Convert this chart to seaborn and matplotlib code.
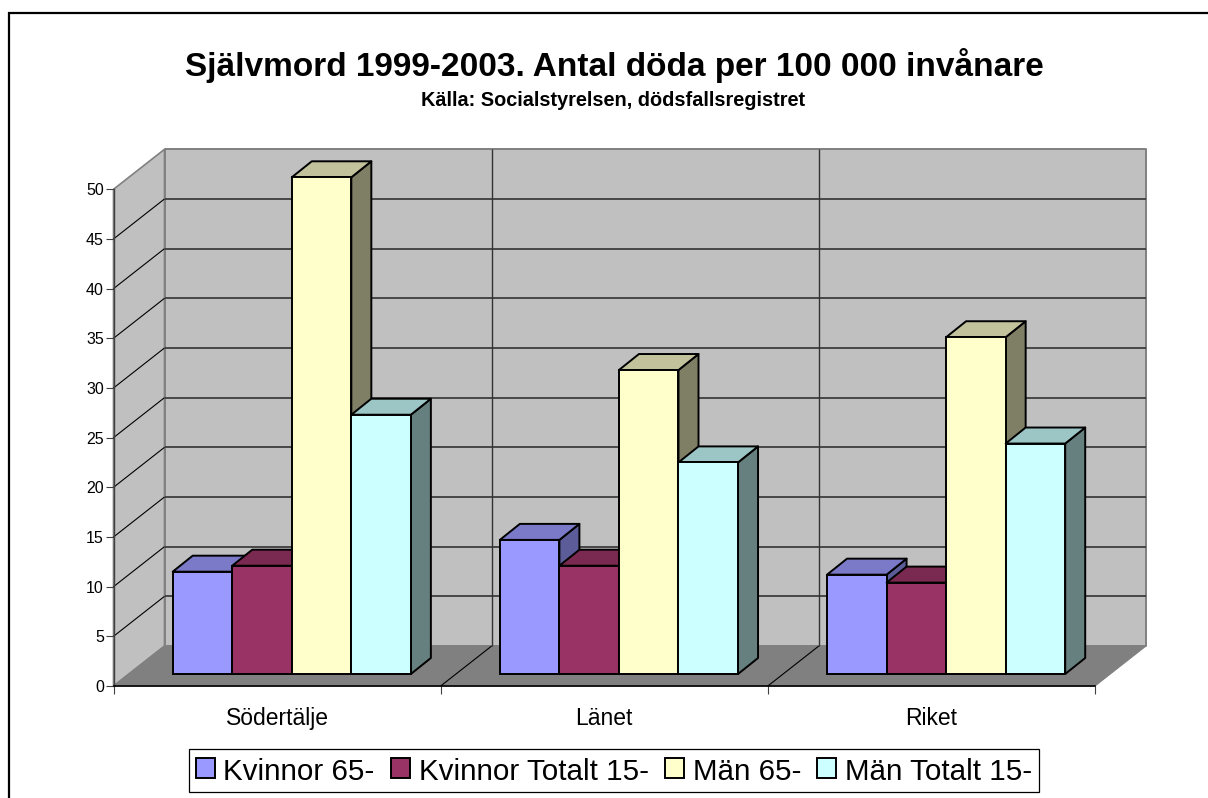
import numpy as np
import pandas as pd
import seaborn as sns
import matplotlib.pyplot as plt
from matplotlib.lines import Line2D
from matplotlib.patches import Polygon
from matplotlib.transforms import Affine2D, IdentityTransform

# values
places = ["Södertälje", "Länet", "Riket"]
series = ["Kvinnor 65-", "Kvinnor Totalt 15-", "Män 65-", "Män Totalt 15-"]
kvinnor_65 = [10.3, 13.5, 10.0]
kvinnor_tot = [10.9, 10.9, 9.2]
man_65 = [50.0, 30.6, 33.9]
man_tot = [26.1, 21.3, 23.2]
y_ticks = list(range(0, 55, 5))

front_colors = ["#9999FF", "#993366", "#FFFFCC", "#CCFFFF"]
top_colors = ["#7A7AC8", "#7A2950", "#C2C29C", "#9CC6C6"]
side_colors = ["#5C5C99", "#5C1F3D", "#7F7F66", "#667F7F"]

W, H = 1208, 798
X0, X1 = 113.5, 1095
Y0, Y50 = 686, 189.3
WALL_DX, WALL_DY = 51, 40
BAR_DX, BAR_DY = 14.7, 12
DEPTH_DX, DEPTH_DY = 20, 16

df = pd.DataFrame({
    "place": places * 4,
    "series": np.repeat(series, 3),
    "value": kvinnor_65 + kvinnor_tot + man_65 + man_tot,
})

sns.set_theme(style="white")
plt.rcParams["font.family"] = ["Liberation Sans", "DejaVu Sans"]

fig = plt.figure(figsize=(W / 100, H / 100), dpi=100)
ax = fig.add_axes([X0 / W, 1 - Y0 / H, (X1 - X0) / W, (Y0 - Y50) / H])
ax.patch.set_visible(False)

sns.barplot(data=df, x="place", y="value", hue="series", order=places,
            hue_order=series, palette=front_colors, width=0.728, gap=0,
            edgecolor="black", linewidth=1.4, saturation=1, ax=ax)
ax.set_xlim(-0.5, 2.5)
ax.set_ylim(0, 50)
ax.set_xlabel("")
ax.set_ylabel("")
ax.set_yticks(y_ticks)


def project(x, y, dx=0, dy=0):
    px = ax.transData.transform((x, y))
    return (px[0] + dx, px[1] + dy)


def face(points, color, edge, lw, z):
    ax.add_patch(Polygon(points, closed=True, facecolor=color, edgecolor=edge,
                         linewidth=lw, transform=IdentityTransform(),
                         clip_on=False, zorder=z, joinstyle="round"))


def line(a, b, color, lw, z=0.5):
    ax.plot([a[0], b[0]], [a[1], b[1]], color=color, lw=lw, zorder=z,
            transform=IdentityTransform(), clip_on=False, solid_capstyle="butt")


# walls and floor
x_a, x_b = -0.5, 2.5
face([project(x_a, 0), project(x_a, 0, WALL_DX, WALL_DY), project(x_a, 50, WALL_DX, WALL_DY), project(x_a, 50)],
     "#C0C0C0", "#808080", 1.2, 0.1)
face([project(x_a, 0, WALL_DX, WALL_DY), project(x_b, 0, WALL_DX, WALL_DY),
      project(x_b, 50, WALL_DX, WALL_DY), project(x_a, 50, WALL_DX, WALL_DY)],
     "#C0C0C0", "#808080", 1.4, 0.1)
face([project(x_a, 0), project(x_b, 0), project(x_b, 0, WALL_DX, WALL_DY), project(x_a, 0, WALL_DX, WALL_DY)],
     "#808080", "#808080", 0.8, 0.2)

for v in y_ticks[1:-1]:
    line(project(x_a, v), project(x_a, v, WALL_DX, WALL_DY), "black", 0.8)
    line(project(x_a, v, WALL_DX, WALL_DY), project(x_b, v, WALL_DX, WALL_DY), "#333333", 1.2)
for x in [0.5, 1.5]:
    line(project(x, 0), project(x, 0, WALL_DX, WALL_DY), "black", 0.8)
    line(project(x, 0, WALL_DX, WALL_DY), project(x, 50, WALL_DX, WALL_DY), "#333333", 1.0)

# 3d faces on the seaborn bars
shift = ax.transData + Affine2D().translate(BAR_DX, BAR_DY)
for i, cont in enumerate(ax.containers):
    for j, bar in enumerate(cont):
        z = 2 + j * 10 + i
        x, w, h = bar.get_x(), bar.get_width(), bar.get_height()
        a = project(x, h, BAR_DX, BAR_DY)
        b = project(x + w, h, BAR_DX, BAR_DY)
        c = project(x + w, 0, BAR_DX, BAR_DY)
        off = lambda p: (p[0] + DEPTH_DX, p[1] + DEPTH_DY)
        face([b, c, off(c), off(b)], side_colors[i], "black", 1.4, z)
        face([a, b, off(b), off(a)], top_colors[i], "black", 1.4, z)
        bar.set_transform(shift)
        bar.set_clip_on(False)
        bar.set_zorder(z + 0.5)

# axes
sns.despine(ax=ax, top=True, right=True)
ax.spines["left"].set_color("#404040")
ax.spines["left"].set_linewidth(1.0)
ax.spines["bottom"].set_color("black")
ax.spines["bottom"].set_linewidth(1.2)
ax.spines["left"].set_zorder(1)
ax.spines["bottom"].set_zorder(1)
ax.set_xticks([-0.5, 0.5, 1.5, 2.5], labels=[""] * 4)
ax.set_xticks([0, 1, 2], labels=places, minor=True)
ax.tick_params(axis="x", which="major", bottom=True, length=6, width=0.8, color="#404040")
ax.tick_params(axis="x", which="minor", bottom=False, labelsize=16.5, pad=11, labelcolor="black")
ax.tick_params(axis="y", left=True, length=6, width=0.8, color="#404040", labelsize=11.5, pad=1, labelcolor="black")

# title block
fig.text(0.5 * (187 + 1042) / W, 1 - 65.5 / H, "Självmord 1999-2003. Antal döda per 100 000 invånare",
         ha="center", va="center", fontsize=24, fontweight="bold", color="black")
fig.text(0.5 * (421 + 806) / W, 1 - 100 / H, "Källa: Socialstyrelsen, dödsfallsregistret",
         ha="center", va="center", fontsize=14.3, fontweight="bold", color="black")

# outer frame: only top and left are inside the image
fig.add_artist(Line2D([9 / W, 9 / W, 1], [0, 1 - 13 / H, 1 - 13 / H], color="black", lw=1.6,
                      transform=fig.transFigure, solid_joinstyle="miter"))

sns.move_legend(ax, loc="center", bbox_to_anchor=(0.5 * (189 + 1039) / W, 1 - 770.5 / H),
                bbox_transform=fig.transFigure, ncol=4, title=None, frameon=True,
                fontsize=21.3, labelcolor="black", fancybox=False, edgecolor="black", framealpha=1,
                handlelength=0.63, handleheight=0.63, handletextpad=0.3,
                columnspacing=0.55, borderpad=0.25, borderaxespad=0)
ax.get_legend().get_frame().set_linewidth(0.9)
ax.get_legend().set_zorder(100)
for t in ax.get_legend().get_texts():
    t.set_y(-2)

fig.savefig("out.png", dpi=100)
